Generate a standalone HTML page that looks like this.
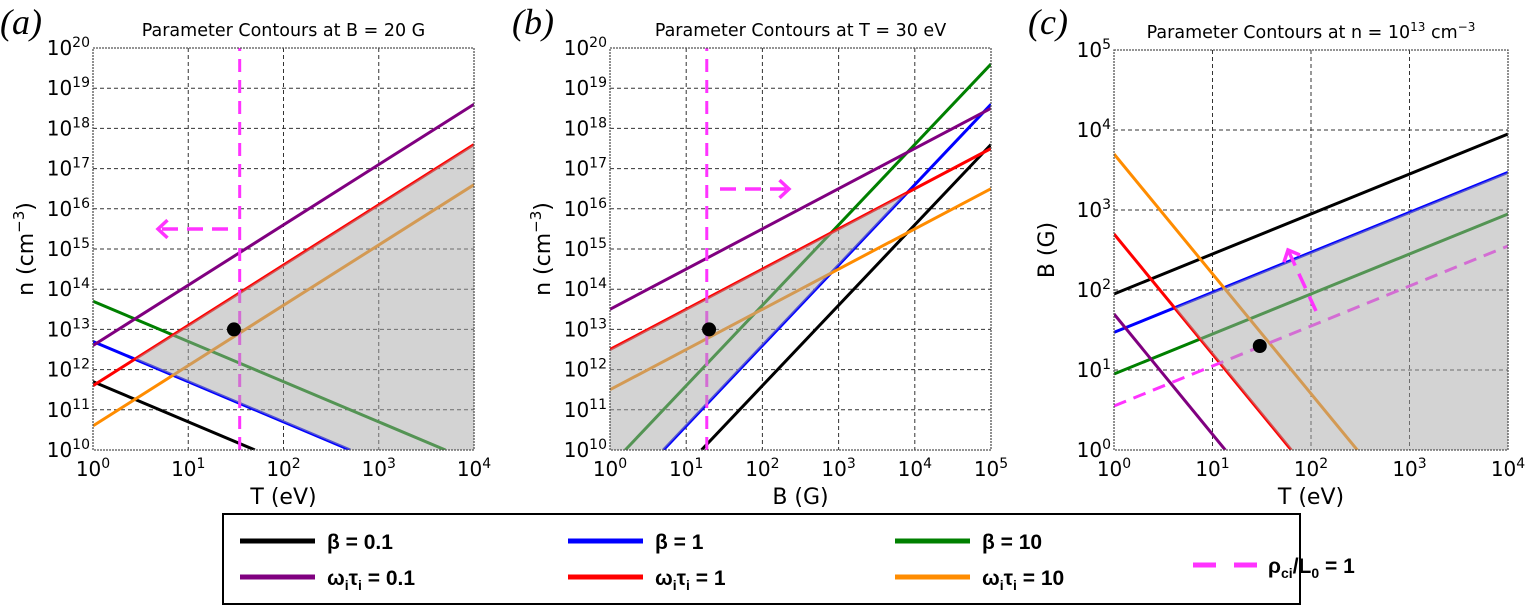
<!DOCTYPE html>
<html><head><meta charset="utf-8"><style>
body{margin:0;background:#fff;width:1527px;height:608px;overflow:hidden}
svg{display:block}
text{font-family:"DejaVu Sans","Liberation Sans",sans-serif;fill:#000}
.pl{font-family:"Liberation Serif",serif;font-style:italic;font-size:36px}
.lg{font-family:"Liberation Sans",sans-serif;font-weight:bold;font-size:21px}
</style></head><body>
<svg id="fig" width="1527" height="608" xmlns="http://www.w3.org/2000/svg"></svg>
<script>
// Panel (a): x = log10 T, y = log10 n  — [x0,y0,x1,y1]
const aLines = {
  beta01:[0,11.7,1.7,10], beta1:[0,12.7,2.7,10], beta10:[0,13.7,3.7,10],
  wt01:[0,12.6,4,18.6], wt1:[0,11.6,4,17.6], wt10:[0,10.6,4,16.6]
};
const aPink = [1.54,10,1.54,20];
const aPoint = [1.48,13];
// Panel (b): x = log10 B, y = log10 n
const bLines = {
  beta01:[1.2,10,5,17.6], beta1:[0.7,10,5,18.6], beta10:[0.2,10,5,19.6],
  wt01:[0,13.5,5,18.5], wt1:[0,12.5,5,17.5], wt10:[0,11.5,5,16.5]
};
const bPink = [1.27,10,1.27,20];
const bPoint = [1.3,13];
// Panel (c): x = log10 T, y = log10 B
const cLines = {
  beta01:[0,1.95,4,3.95], beta1:[0,1.47,4,3.47], beta10:[0,0.95,4,2.95],
  wt01:[0,1.7,1.13,0], wt1:[0,2.7,1.8,0], wt10:[0,3.7,2.47,0]
};
const cPink = [0,0.55,4,2.55];
const cPoint = [1.48,1.3];
const colors = {beta01:'#000',beta1:'#0000ff',beta10:'#008000',wt01:'#800080',wt1:'#ff0000',wt10:'#ff8c00'};

const NS='http://www.w3.org/2000/svg';
const svg=document.getElementById('fig');
function el(tag,attrs,parent){const e=document.createElementNS(NS,tag);for(const k in attrs)e.setAttribute(k,attrs[k]);(parent||svg).appendChild(e);return e;}

function panel(id,px0,px1,py0,py1,xmin,xmax,ymin,ymax,lines,pink,pt,shade,title,xl,yl,letter,arrow){
  const g=el('g',{});
  
  
  const X=v=>px0+(v-xmin)/(xmax-xmin)*(px1-px0);
  const Y=v=>py1-(v-ymin)/(ymax-ymin)*(py1-py0);
  const lineY=(L,x)=>L[1]+(L[3]-L[1])*(x-L[0])/(L[2]-L[0]);
  // grid
  for(let v=xmin+1;v<xmax;v++) el('line',{x1:X(v),x2:X(v),y1:py0,y2:py1,stroke:'#333','stroke-width':1,'stroke-dasharray':'4,3'},g);
  for(let v=ymin+1;v<ymax;v++) el('line',{x1:px0,x2:px1,y1:Y(v),y2:Y(v),stroke:'#333','stroke-width':1,'stroke-dasharray':'4,3'},g);
  const cp=el('clipPath',{id:'clip'+id},g);el('rect',{x:px0,y:py0,width:px1-px0,height:py1-py0},cp);
  const lg=el('g',{'clip-path':'url(#clip'+id+')'},g);
  for(const k in lines){const L=lines[k];
    const ln=el('line',{x1:X(L[0]),y1:Y(L[1]),x2:X(L[2]),y2:Y(L[3]),stroke:colors[k],'stroke-width':3},lg);
    
    }
  const pk=el('line',{x1:X(pink[0]),y1:Y(pink[1]),x2:X(pink[2]),y2:Y(pink[3]),stroke:'#ff33ff','stroke-width':3,'stroke-dasharray':'13,8'},lg);
  
  
  // shade over lines (semi-transparent)
  const up=lines[shade[0]], lo=lines[shade[1]];
  const N=400;let top=[],bot=[];
  for(let i=0;i<=N;i++){const x=xmin+(xmax-xmin)*i/N;
    let yu=Math.min(lineY(up,x),ymax), yl2=Math.max(lineY(lo,x),ymin);
    if(yu>yl2){top.push([X(x),Y(yu)]);bot.push([X(x),Y(yl2)]);}}
  const poly=top.concat(bot.reverse()).map(p=>p.join(',')).join(' ');
  const sh=el('polygon',{points:poly,fill:'#a8a8a8','fill-opacity':0.5},g);
  
  
  const dot=el('circle',{cx:X(pt[0]),cy:Y(pt[1]),r:7,fill:'#000'},g);
  
  
  const a=arrow;
  el('line',{x1:a[0],y1:a[1],x2:a[2],y2:a[3],stroke:'#ff33ff','stroke-width':3.5,'stroke-dasharray':'16,9'},g);
  const ang=Math.atan2(a[3]-a[1],a[2]-a[0]);const h=13;
  const p1=[a[2]-h*Math.cos(ang-0.75),a[3]-h*Math.sin(ang-0.75)],p2=[a[2]-h*Math.cos(ang+0.75),a[3]-h*Math.sin(ang+0.75)];
  el('polyline',{points:p1.join(',')+' '+a[2]+','+a[3]+' '+p2.join(','),fill:'none',stroke:'#ff33ff','stroke-width':3.5},g);
  el('rect',{x:px0,y:py0,width:px1-px0,height:py1-py0,fill:'none',stroke:'#555','stroke-width':1.3,'stroke-dasharray':'2,1'},g);
  for(let v=xmin;v<=xmax;v++){const t=el('text',{x:X(v),y:py1+26,'text-anchor':'middle','font-size':20},g);
    t.innerHTML='10<tspan dy="-8" font-size="14">'+v+'</tspan>';}
  for(let v=ymin;v<=ymax;v++){const t=el('text',{x:px0-3,y:Y(v)+7,'text-anchor':'end','font-size':20},g);
    t.innerHTML='10<tspan dy="-8" font-size="14">'+v+'</tspan>';}
  const tt=el('text',{x:(px0+px1)/2,y:py0-12,'text-anchor':'middle','font-size':17.5},g);tt.innerHTML=title;
  
  const xt=el('text',{x:(px0+px1)/2,y:py1+54,'text-anchor':'middle','font-size':22},g);xt.textContent=xl;
  
  const cy=(py0+py1)/2;
  const yt=el('text',{x:0,y:0,'text-anchor':'middle','font-size':22,transform:'translate('+(px0-60)+','+cy+') rotate(-90)'},g);yt.innerHTML=yl;
  
  const pl=el('text',{x:letter[0],y:letter[1],'class':'pl'},g);pl.textContent=letter[2];
  
}
panel('a',93,474,48,450,0,4,10,20,aLines,aPink,aPoint,['wt1','beta1'],'Parameter Contours at B = 20 G','T (eV)','n (cm<tspan dy="-9" font-size="15">−3</tspan><tspan dy="9">)</tspan>',[0,34,'(a)'],[228,229,158,229]);
panel('b',610,991,48,450,0,5,10,20,bLines,bPink,bPoint,['wt1','beta1'],'Parameter Contours at T = 30 eV','B (G)','n (cm<tspan dy="-9" font-size="15">−3</tspan><tspan dy="9">)</tspan>',[512,34,'(b)'],[720,189,789,189]);
panel('c',1114,1508,50,450,0,4,0,5,cLines,cPink,cPoint,['beta1','wt1'],'Parameter Contours at n = 10<tspan dy="-7" font-size="12">13</tspan><tspan dy="7"> cm</tspan><tspan dy="-7" font-size="12">−3</tspan>','T (eV)','B (G)',[1028,34,'(c)'],[1316,311,1288,250]);

const lgG=el('g',{});


el('rect',{x:223,y:514,width:1077,height:90,fill:'#fff',stroke:'#000','stroke-width':2},lgG);
const legendEntries=[
 ['beta01',240,541,'β = 0.1'],['beta1',568,541,'β = 1'],['beta10',895,541,'β = 10'],
 ['wt01',240,577,'ω<tspan dy="5" font-size="14">i</tspan><tspan dy="-5">τ</tspan><tspan dy="5" font-size="14">i</tspan><tspan dy="-5"> = 0.1</tspan>'],
 ['wt1',568,577,'ω<tspan dy="5" font-size="14">i</tspan><tspan dy="-5">τ</tspan><tspan dy="5" font-size="14">i</tspan><tspan dy="-5"> = 1</tspan>'],
 ['wt10',895,577,'ω<tspan dy="5" font-size="14">i</tspan><tspan dy="-5">τ</tspan><tspan dy="5" font-size="14">i</tspan><tspan dy="-5"> = 10</tspan>']];
for(const e of legendEntries){
  const g=el('g',{},lgG);
  
  
  el('line',{x1:e[1],x2:e[1]+75,y1:e[2],y2:e[2],stroke:colors[e[0]],'stroke-width':5},g);
  const t=el('text',{x:e[1]+87,y:e[2]+8,'class':'lg'},g);t.innerHTML=e[3];
}
const pg=el('g',{},lgG);


el('line',{x1:1193,x2:1257,y1:565,y2:565,stroke:'#ff33ff','stroke-width':5,'stroke-dasharray':'23,18'},pg);
const pt=el('text',{x:1268,y:573,'class':'lg'},pg);
pt.innerHTML='ρ<tspan dy="5" font-size="14">ci</tspan><tspan dy="-5">/L</tspan><tspan dy="5" font-size="14">0</tspan><tspan dy="-5"> = 1</tspan>';
</script>
</body></html>
